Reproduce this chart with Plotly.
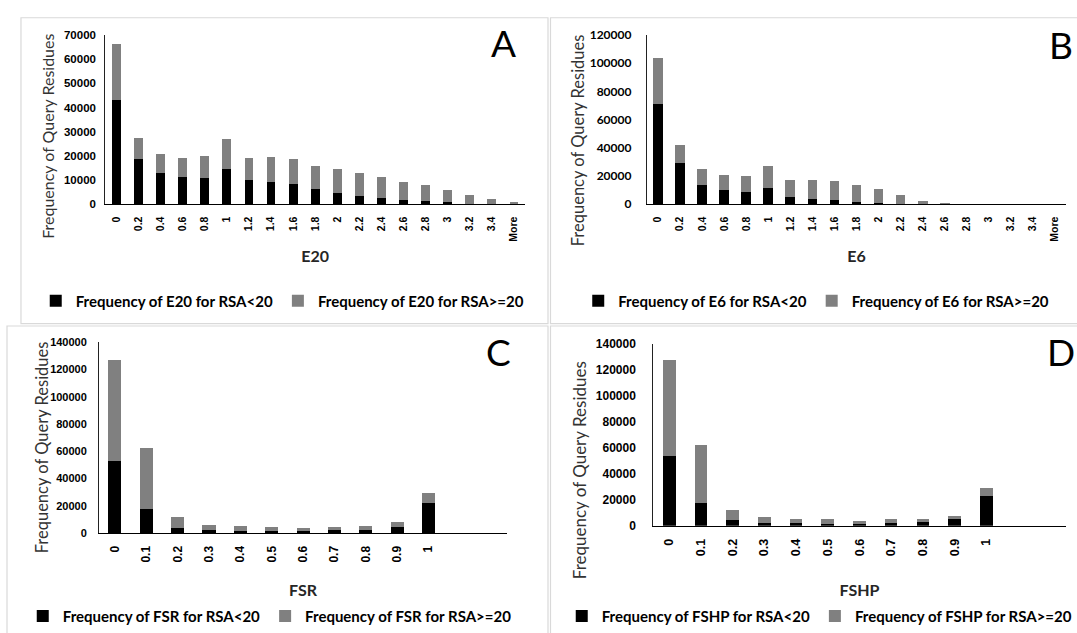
import plotly.graph_objects as go

W, H = 1077, 633

# ---------------- data ----------------
e_cats = ["0", "0.2", "0.4", "0.6", "0.8", "1", "1.2", "1.4", "1.6", "1.8", "2",
          "2.2", "2.4", "2.6", "2.8", "3", "3.2", "3.4", "More"]
e20_low = [43000, 18800, 12800, 11200, 10900, 14500, 10100, 9400, 8200, 6200, 4800,
           3500, 2700, 1700, 1200, 800, 300, 100, 0]
e20_high = [23500, 8800, 8100, 8000, 8900, 12300, 8900, 10100, 10500, 9700, 9900,
            9300, 8500, 7700, 6600, 5000, 3600, 1900, 1100]
e6_low = [71100, 28900, 13400, 9900, 8500, 11500, 5300, 3900, 2800, 1400, 900,
          400, 100, 0, 0, 0, 0, 0, 0]
e6_high = [32400, 12900, 11500, 11100, 11400, 15700, 11800, 13200, 13400, 12000, 10000,
           6300, 2200, 300, 0, 0, 0, 0, 0]

f_cats = ["0", "0.1", "0.2", "0.3", "0.4", "0.5", "0.6", "0.7", "0.8", "0.9", "1"]
fsr_low = [53000, 17400, 3800, 1900, 1400, 1400, 1200, 1900, 2400, 4300, 22000]
fsr_high = [73600, 45000, 8100, 4300, 3400, 2900, 2600, 2400, 2400, 3600, 7400]
fshp_low = [53300, 17800, 4300, 2000, 1800, 1500, 1300, 1800, 2500, 4800, 22800]
fshp_high = [73900, 44600, 8000, 4800, 3500, 3300, 2700, 3000, 2800, 3000, 6500]

y_title = "Frequency of Query Residues"

BLACK = "#000000"
GREY = "#808080"


def px_x(p):
    return p / W


def px_y(p):
    return 1 - p / H


fig = go.Figure()

panels = [
    # name, cats, low, high, axis suffix, legend id, bar width
    ("E20", e_cats, e20_low, e20_high, "", "legend", 0.40),
    ("E6", e_cats, e6_low, e6_high, "2", "legend2", 0.44),
    ("FSR", f_cats, fsr_low, fsr_high, "3", "legend3", 0.42),
    ("FSHP", f_cats, fshp_low, fshp_high, "4", "legend4", 0.40),
]

for name, cats, low, high, sfx, leg, bw in panels:
    fig.add_trace(go.Bar(x=cats, y=low, name=f"Frequency of {name} for RSA<20",
                         marker=dict(color=BLACK, line=dict(width=0)), width=bw,
                         xaxis="x" + sfx, yaxis="y" + sfx, legend=leg))
    fig.add_trace(go.Bar(x=cats, y=high, name=f"Frequency of {name} for RSA>=20",
                         marker=dict(color=GREY, line=dict(width=0)), width=bw,
                         xaxis="x" + sfx, yaxis="y" + sfx, legend=leg))

tick_narrow = "Liberation Sans Narrow, Arial Narrow, Liberation Sans, Arial"
tick_arial = "Liberation Sans, Arial"
title_font = "Lato, Calibri, Open Sans"

# axis geometry (pixels)
geo = {
    "": dict(x0=105.5, x1=525.5, ytop=27.7, ybot=201, ymax=70000, dtick=10000,
             ytf=dict(family=tick_arial, size=11.5, color="black", weight="bold"),
             xtf=dict(family=tick_arial, size=10.5, color="black", weight="bold"),
             xrange=None, xstand=10, ylstand=6,
             yt=dict(x=48, y=131, size=16)),
    "2": dict(x0=647.6, x1=1067, ytop=27.7, ybot=201, ymax=120000, dtick=20000,
              ytf=dict(family=title_font, size=12, color="black", weight="bold"),
              xtf=dict(family=tick_arial, size=10.5, color="black", weight="bold"),
              xrange=None, xstand=10, ylstand=12,
              yt=dict(x=578, y=135, size=16.5)),
    "3": dict(x0=99.3, x1=507.5, ytop=342.3, ybot=537.7, ymax=140000, dtick=20000,
              ytf=dict(family=tick_narrow, size=11, color="black", weight="bold"),
              xtf=dict(family=tick_narrow, size=12, color="black", weight="bold"),
              xrange=[-0.5, 12.5], xstand=23, ylstand=9,
              yt=dict(x=42, y=450, size=16.5)),
    "4": dict(x0=654, x1=1066.5, ytop=344, ybot=530.3, ymax=140000, dtick=20000,
              ytf=dict(family=tick_arial, size=12, color="black", weight="bold"),
              xtf=dict(family=tick_narrow, size=12.5, color="black", weight="bold"),
              xrange=[-0.5, 12.5], xstand=29, ylstand=14,
              yt=dict(x=580, y=473, size=17)),
}

layout_axes = {}
for (name, cats, low, high, sfx, leg, bw) in panels:
    g = geo[sfx]
    xa = dict(domain=[px_x(g["x0"]), px_x(g["x1"])], anchor="y" + sfx,
              type="category", showline=True, linecolor="black", linewidth=1.3,
              showgrid=False, zeroline=False, ticks="", tickangle=-90,
              tickfont=g["xtf"], ticklabelstandoff=7,
              title=dict(text=name, standoff=g["xstand"],
                         font=dict(family=title_font, size=16, color="#262626", weight="bold")))
    if g["xrange"] is not None:
        xa["range"] = g["xrange"]
    ya = dict(domain=[px_y(g["ybot"]), px_y(g["ytop"])], anchor="x" + sfx,
              range=[0, g["ymax"]], dtick=g["dtick"], tickformat="d",
              showline=True, linecolor="#222222", linewidth=1.3,
              showgrid=False, zeroline=False, ticks="", tickfont=g["ytf"],
              ticklabelstandoff=g["ylstand"])
    layout_axes["xaxis" + sfx] = xa
    layout_axes["yaxis" + sfx] = ya
    # y-axis title (placed like the original, centred on axis + labels)
    yt = g["yt"]
    fig.add_annotation(text=y_title, x=px_x(yt["x"]), y=px_y(yt["y"]),
                       xref="paper", yref="paper", showarrow=False, textangle=-90,
                       xanchor="center", yanchor="middle",
                       font=dict(family=title_font, size=yt["size"], color="#333333"))

leg_font = dict(family=title_font, size=15, color="black", weight="bold")
legend_common = dict(orientation="h", xanchor="center", yanchor="middle",
                     font=leg_font, bgcolor="rgba(0,0,0,0)", itemclick=False,
                     traceorder="normal", itemwidth=30, tracegroupgap=0)

fig.update_layout(
    width=W, height=H,
    margin=dict(l=0, r=0, t=0, b=0),
    paper_bgcolor="white", plot_bgcolor="white",
    barmode="stack",
    showlegend=True,
    legend=dict(x=px_x(283), y=px_y(300), **legend_common),
    legend2=dict(x=px_x(817), y=px_y(300), **legend_common),
    legend3=dict(x=px_x(270), y=px_y(623), **legend_common),
    legend4=dict(x=px_x(820), y=px_y(623), **legend_common),
    **layout_axes,
)

# panel frames
frames = [(21, 10, 548.5, 323.3), (551, 10, 1085, 323.3),
          (7, 325.7, 548.5, 645), (551, 325.7, 1085, 645)]
for x0, y0, x1, y1 in frames:
    fig.add_shape(type="rect", xref="paper", yref="paper",
                  x0=px_x(x0), x1=px_x(x1), y0=px_y(y1), y1=px_y(y0),
                  line=dict(color="#d9d9d9", width=1.2), fillcolor="rgba(0,0,0,0)",
                  layer="below")

# panel letters
letters = [("A", 504, 35), ("B", 1062, 37), ("C", 499, 352), ("D", 1062, 352)]
for t, x, y in letters:
    fig.add_annotation(text=t, x=px_x(x), y=px_y(y), xref="paper", yref="paper",
                       showarrow=False, xanchor="center", yanchor="middle",
                       font=dict(family="Lato, Calibri, Liberation Sans", size=37, color="black"))

fig.write_html("out.html")
